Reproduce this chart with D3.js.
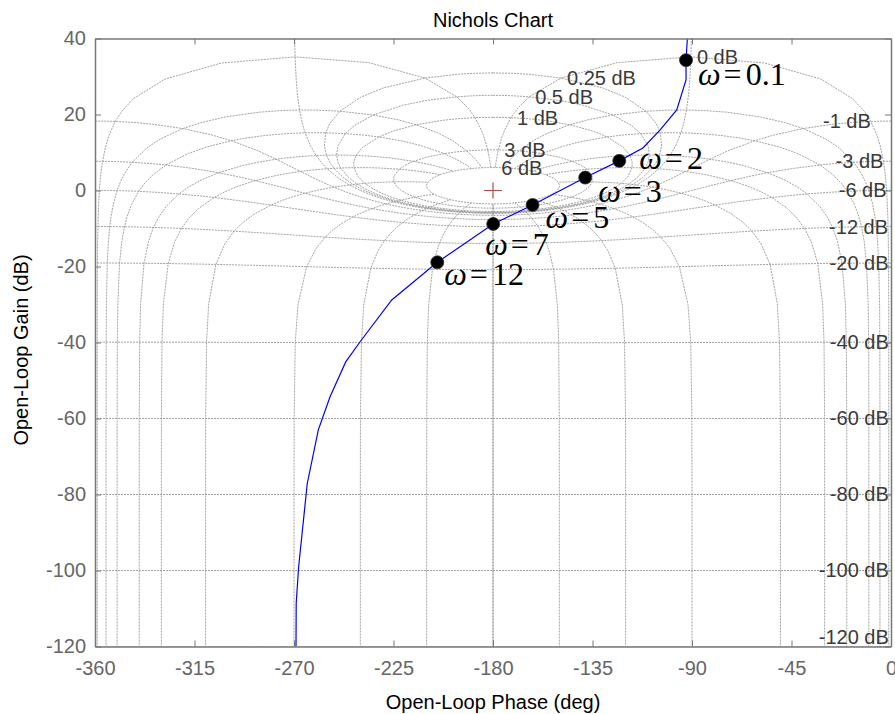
<!DOCTYPE html>
<html>
<head>
<meta charset="utf-8">
<script src="https://cdn.jsdelivr.net/npm/d3@7"></script>
<style>
    body { margin: 0; background: #fff; }
    text { font-family: "Liberation Sans", Arial, sans-serif; }
</style>
</head>
<body>
<div id="chart"></div>
<script>
// axis ticks
const phaseTicks = [-360, -315, -270, -225, -180, -135, -90, -45, 0];
const gainTicks = [40, 20, 0, -20, -40, -60, -80, -100, -120];

// closed-loop contours of the nichols grid (dB and deg)
const isoGains = [6, 3, 1, 0.5, 0.25, 0, -1, -3, -6, -12, -20, -40, -60, -80, -100, -120];
const isoPhases = [-1, -5, -10, -20, -30, -50, -90, -120, -150, -180];

// open-loop response
const loopPhase = [-92.1, -92.7, -92.7, -96.9, -104.5, -112.2, -122.9, -138.3, -162.1, -179.9,
    -205.2, -225.8, -240.1, -246.6, -253.7, -259.0, -264.0, -267.9, -269.0, -269.1];
const loopGain = [40, 34.3, 29.1, 21.2, 15.9, 11.2, 7.8, 3.4, -3.8, -8.8,
    -18.9, -28.8, -39.8, -45.1, -54.3, -63.0, -77.1, -99.0, -108.6, -120];

// marked frequencies
const markOmega = ["0.1", "2", "3", "5", "7", "12"];
const markPhase = [-92.7, -122.9, -138.3, -162.1, -179.9, -205.2];
const markGain = [34.3, 7.8, 3.4, -3.8, -8.8, -18.9];

// where each omega label sits relative to its marker (px)
const labelDx = [12, 20, 13, 13, -8, 7];
const labelDy = [25, 8, 24, 23, 31, 23];

var w = 895;
var h = 714;
var margin = { top: 38.5, right: 4, bottom: 67.5, left: 95 },
    width = w - margin.left - margin.right,
    height = h - margin.top - margin.bottom;

var svg = d3.select("#chart")
    .append("svg")
    .attr("width", w)
    .attr("height", h)
    .append("g")
    .attr("transform", `translate(${margin.left}, ${margin.top})`);

var x = d3.scaleLinear().domain([-360, 0]).range([0, width]);
var y = d3.scaleLinear().domain([-120, 40]).range([height, 0]);

svg.append("clipPath")
    .attr("id", "plotArea")
    .append("rect")
    .attr("width", width)
    .attr("height", height);

// open-loop point (phase, gain) for a closed-loop gain in dB and phase in deg
const toOpenLoop = (mDb, psi) => {
    const m = Math.pow(10, mDb / 20), r = psi * Math.PI / 180;
    const dr = 1 - m * Math.cos(r), di = -m * Math.sin(r);
    let ph = psi - Math.atan2(di, dr) * 180 / Math.PI;
    if (m > 1) {
        if (ph > 0) ph -= 360;
        if (ph <= -360) ph += 360;
    }
    return [ph, 20 * Math.log10(m / Math.hypot(dr, di))];
};

var half = [0, 0.25, 0.5, 1, 2, 3, 5, 7.5, 10, 15, 20, 25, 30, 40, 50, 60, 70, 80, 90,
    100, 110, 120, 130, 140, 150, 160, 170, 180];
var psiSteps = half.map(p => -p).concat(half.slice(0, -1).reverse().map(p => p - 360));
var mSteps = [-140, -120, -100, -80, -60, -40, -30, -20, -15, -12, -10, -8, -6, -5, -4, -3,
    -2, -1.5, -1, -0.75, -0.5, -0.25, -0.1, 0, 0.1, 0.25, 0.5, 0.75, 1, 1.5, 2, 3, 4, 5, 6];

var gridLines = [];
isoGains.forEach(g => {
    gridLines.push(psiSteps.map(p => toOpenLoop(g, p))
        .filter(d => isFinite(d[1]) && d[1] < 80));
});
isoPhases.forEach(p => {
    var pts = mSteps.map(m => toOpenLoop(m, p));
    gridLines.push(pts);
    gridLines.push(pts.map(d => [-360 - d[0], d[1]]));
});

var line = d3.line()
    .x(d => x(d[0]))
    .y(d => y(d[1]));

var grid = svg.append("g").attr("clip-path", "url(#plotArea)");
grid.selectAll("path")
    .data(gridLines)
    .join("path")
    .attr("fill", "none")
    .attr("stroke", "#8c8c8c")
    .attr("stroke-width", 0.8)
    .attr("stroke-dasharray", "2,1")
    .attr("d", line);

// contour labels at the psi = -1 point of each gain contour
svg.append("g")
    .selectAll("text")
    .data(isoGains)
    .join("text")
    .attr("x", g => x(toOpenLoop(g, -1)[0]) + (g >= 0 ? 6 : 0))
    .attr("y", g => Math.min(y(toOpenLoop(g, -1)[1]), height - 10))
    .attr("dy", "0.35em")
    .attr("text-anchor", g => g >= 0 ? "start" : "end")
    .style("font-size", "20px")
    .attr("fill", "#3a3a3a")
    .text(g => `${g} dB`);

// critical point
var cx = x(-180), cy = y(0);
svg.append("path")
    .attr("d", `M${cx - 9},${cy}H${cx + 9}M${cx},${cy - 8}V${cy + 8}`)
    .attr("stroke", "#b04848")
    .attr("stroke-width", 1.2);

// open-loop curve
var loop = loopPhase.map((p, i) => [p, loopGain[i]]);
svg.append("path")
    .datum(loop)
    .attr("clip-path", "url(#plotArea)")
    .attr("fill", "none")
    .attr("stroke", "#0000ff")
    .attr("stroke-width", 1.2)
    .attr("d", line);

// frame and axes, plain hyphen for negative ticks
var fmt = d => String(d);
var xAxis = d3.axisBottom(x).tickValues(phaseTicks).tickFormat(fmt)
    .tickSizeInner(-6).tickSizeOuter(0).tickPadding(14);
var yAxis = d3.axisLeft(y).tickValues(gainTicks).tickFormat(fmt)
    .tickSizeInner(-6).tickSizeOuter(0).tickPadding(9);
var xTop = d3.axisTop(x).tickValues(phaseTicks).tickSizeInner(-6).tickSizeOuter(0).tickFormat("");
var yRight = d3.axisRight(y).tickValues(gainTicks).tickSizeInner(-6).tickSizeOuter(0).tickFormat("");

svg.append("g").attr("transform", `translate(0, ${height})`).call(xAxis);
svg.append("g").call(yAxis);
svg.append("g").call(xTop);
svg.append("g").attr("transform", `translate(${width}, 0)`).call(yRight);

svg.selectAll(".domain").attr("stroke", "#777").attr("stroke-width", 1.5);
svg.selectAll(".tick line").attr("stroke", "#777");
svg.selectAll(".tick text")
    .attr("fill", "#666")
    .style("font-size", "20px")
    .style("font-family", "Liberation Sans, Arial, sans-serif");

// markers
svg.selectAll("circle.mark")
    .data(markPhase)
    .join("circle")
    .attr("class", "mark")
    .attr("cx", (d, i) => x(d))
    .attr("cy", (d, i) => y(markGain[i]))
    .attr("r", 6.5)
    .attr("fill", "#000")
    .attr("stroke", "#333")
    .attr("stroke-width", 0.8);

var omegaText = svg.selectAll("text.omega")
    .data(markOmega)
    .join("text")
    .attr("class", "omega")
    .attr("x", (d, i) => x(markPhase[i]) + labelDx[i])
    .attr("y", (d, i) => y(markGain[i]) + labelDy[i])
    .style("font-family", "Liberation Serif, Times New Roman, serif")
    .style("font-size", "32px")
    .attr("fill", "#000");
omegaText.append("tspan").style("font-style", "italic").text("ω");
omegaText.append("tspan").attr("dx", 3).text("=");
omegaText.append("tspan").attr("dx", 4).text(d => d);

// titles
svg.append("text")
    .attr("x", width / 2)
    .attr("y", -12)
    .attr("text-anchor", "middle")
    .style("font-size", "20px")
    .attr("fill", "#000")
    .text("Nichols Chart");

svg.append("text")
    .attr("x", width / 2)
    .attr("y", height + 62)
    .attr("text-anchor", "middle")
    .style("font-size", "20px")
    .attr("fill", "#000")
    .text("Open-Loop Phase (deg)");

svg.append("text")
    .attr("transform", "rotate(-90)")
    .attr("x", -(350 - margin.top))
    .attr("y", 28 - margin.left)
    .attr("text-anchor", "middle")
    .style("font-size", "20px")
    .attr("fill", "#000")
    .text("Open-Loop Gain (dB)");
</script>
</body>
</html>
